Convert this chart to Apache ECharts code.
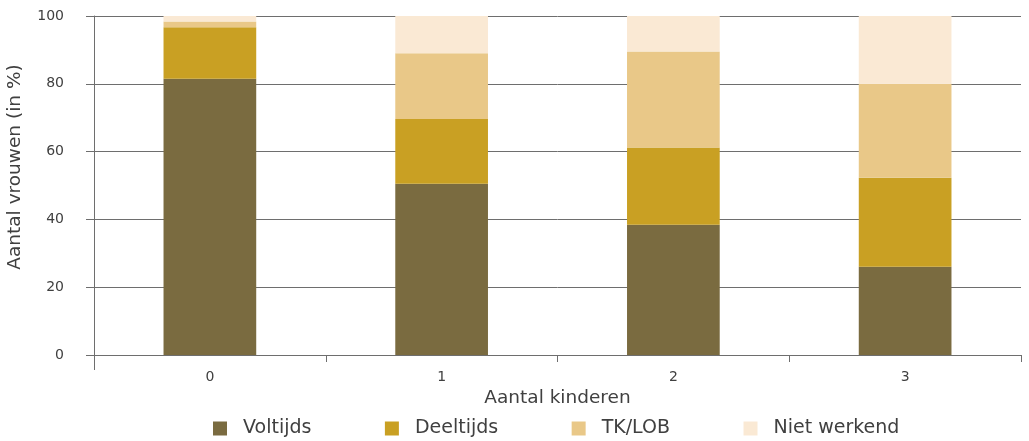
<!DOCTYPE html>
<html>
<head>
<meta charset="utf-8">
<script src="https://cdn.jsdelivr.net/npm/echarts@6/dist/echarts.min.js"></script>
<style>
html,body{margin:0;padding:0;background:#fff;}
#chart{width:1029px;height:441px;}
</style>
</head>
<body>
<div id="chart"></div>
<script>
const categories = ['0', '1', '2', '3'];
const voltijds = [81.5, 50.5, 38.4, 26.0];
const deeltijds = [15.2, 19.1, 22.8, 26.3];
const tkLob = [1.7, 19.4, 28.3, 27.7];
const nietWerkend = [1.6, 11.0, 10.5, 20.0];
const yTicks = [0, 20, 40, 60, 80, 100];

const seriesNames = ['Voltijds', 'Deeltijds', 'TK/LOB', 'Niet werkend'];
const seriesData = [voltijds, deeltijds, tkLob, nietWerkend];
const colors = ['#7a6b40', '#c9a023', '#e9c888', '#fae9d4'];
const font = "'DejaVu Sans'";

const chart = echarts.init(document.getElementById('chart'), null, {renderer: 'canvas'});
chart.setOption({
  animation: false,
  textStyle: {fontFamily: font},
  grid: {left: 94, right: 8, top: 16, bottom: 86, containLabel: false},
  legend: {
    data: seriesNames,
    left: 208,
    top: 414,
    itemWidth: 14,
    itemHeight: 14,
    itemGap: 73.5,
    icon: 'rect',
    textStyle: {fontFamily: font, fontSize: 19, color: '#404040', padding: [0, 0, 0, 11]}
  },
  xAxis: {
    type: 'category',
    data: categories,
    name: 'Aantal kinderen',
    nameLocation: 'middle',
    nameGap: 33,
    nameTextStyle: {fontFamily: font, fontSize: 18.5, color: '#404040'},
    axisLine: {show: true, lineStyle: {color: '#6e6e6e', width: 1}},
    axisTick: {show: true, length: 7, lineStyle: {color: '#6e6e6e'}},
    axisLabel: {fontFamily: font, fontSize: 14, color: '#404040', margin: 15}
  },
  yAxis: {
    type: 'value',
    min: 0,
    max: 100,
    interval: 20,
    axisLine: {show: true, lineStyle: {color: '#6e6e6e', width: 1}},
    axisTick: {show: true, length: 8, lineStyle: {color: '#6e6e6e'}},
    axisLabel: {fontFamily: font, fontSize: 14, color: '#404040', margin: 30,
      formatter: v => yTicks.includes(v) ? String(v) : ''},
    splitLine: {show: true, lineStyle: {color: '#6e6e6e', width: 1}}
  },
  graphic: [
    {type: 'line', shape: {x1: 94.5, y1: 355, x2: 94.5, y2: 370}, style: {stroke: '#6e6e6e', lineWidth: 1}, z: 10},
    {type: 'text', x: 15, y: 167, rotation: Math.PI / 2,
      style: {text: 'Aantal vrouwen (in %)', fontFamily: font, fontSize: 18.5, fill: '#404040', align: 'center', verticalAlign: 'middle'}}
  ],
  series: seriesNames.map((n, i) => ({
    name: n,
    type: 'bar',
    stack: 'total',
    barWidth: '40%',
    data: seriesData[i],
    itemStyle: {color: colors[i]}
  }))
});
</script>
</body>
</html>
